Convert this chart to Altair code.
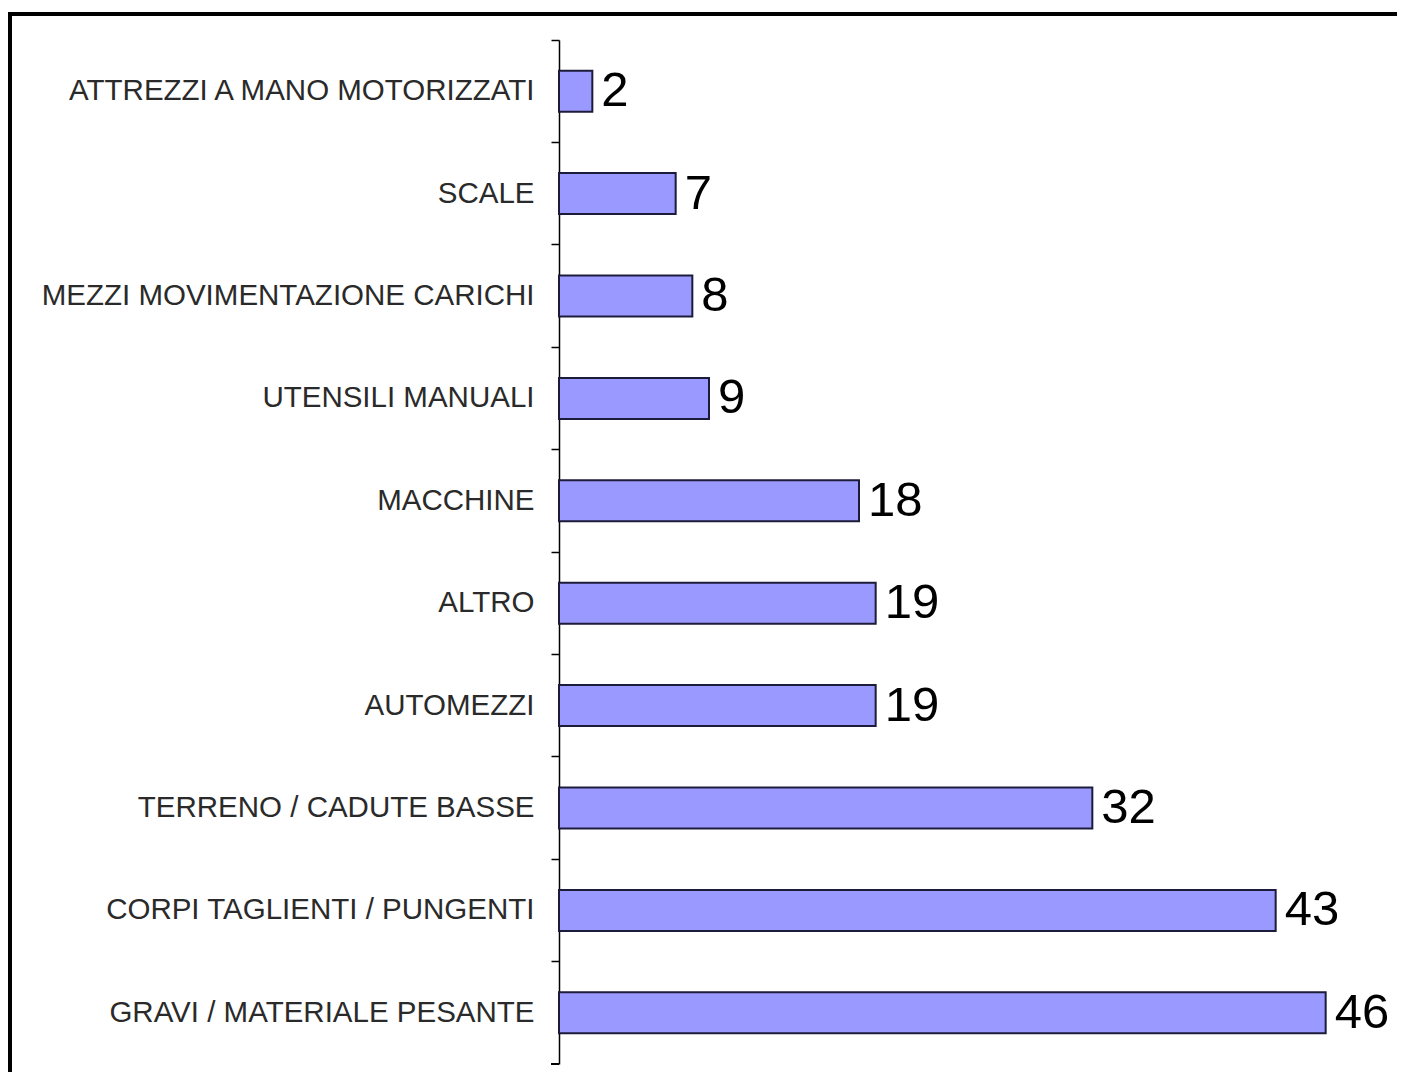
import altair as alt
import pandas as pd

categories = [
    "ATTREZZI A MANO MOTORIZZATI",
    "SCALE",
    "MEZZI MOVIMENTAZIONE CARICHI",
    "UTENSILI MANUALI",
    "MACCHINE",
    "ALTRO",
    "AUTOMEZZI",
    "TERRENO / CADUTE BASSE",
    "CORPI TAGLIENTI / PUNGENTI",
    "GRAVI / MATERIALE PESANTE",
]
values = [2, 7, 8, 9, 18, 19, 19, 32, 43, 46]

df = pd.DataFrame({"categoria": categories, "valore": values})

W, H = 800, 1024

y_enc = alt.Y(
    "categoria:N",
    sort=categories,
    scale=alt.Scale(paddingInner=0, paddingOuter=0),
    axis=alt.Axis(
        title=None,
        bandPosition=0,
        domainColor="#000000",
        domainWidth=1.5,
        tickColor="#000000",
        tickWidth=1.5,
        tickSize=8,
        labelPadding=17,
        labelFont="Liberation Sans",
        labelFontSize=29.5,
        labelColor="#2a2a2a",
        labelLimit=700,
    ),
)
x_enc = alt.X(
    "valore:Q",
    scale=alt.Scale(domain=[0, 48], nice=False, zero=True),
    axis=None,
)

bars = alt.Chart(df).mark_bar(
    height=alt.RelativeBandSize(0.4),
    fill="#9999FF",
    stroke="#1c1c3a",
    strokeWidth=2,
).encode(y=y_enc, x=x_enc)

labels = alt.Chart(df).mark_text(
    align="left",
    baseline="middle",
    dx=9,
    font="Liberation Sans",
    fontSize=49,
    color="#000000",
).encode(y=y_enc, x=x_enc, text="valore:Q")

bottom_tick = alt.Chart(df).mark_rule(color="#000000", strokeWidth=1.5).encode(
    x=alt.value(-8), x2=alt.value(0), y=alt.value(H)
)

frame_top = alt.Chart(df).mark_rule(color="#000000", strokeWidth=3.5, strokeCap="butt").encode(
    x=alt.value(-549), x2=alt.value(838), y=alt.value(-26)
)
frame_left = alt.Chart(df).mark_rule(color="#000000", strokeWidth=3.5, strokeCap="butt").encode(
    x=alt.value(-549), y=alt.value(-27.5), y2=alt.value(1032)
)

chart = (
    alt.layer(bars, labels, bottom_tick, frame_top, frame_left)
    .properties(
        width=W,
        height=H,
        padding={"left": 0, "top": 2, "right": 0, "bottom": 0},
        background="#ffffff",
    )
    .configure_view(stroke=None)
)

chart.save("out.html", embed_options={"renderer": "svg", "actions": False})
